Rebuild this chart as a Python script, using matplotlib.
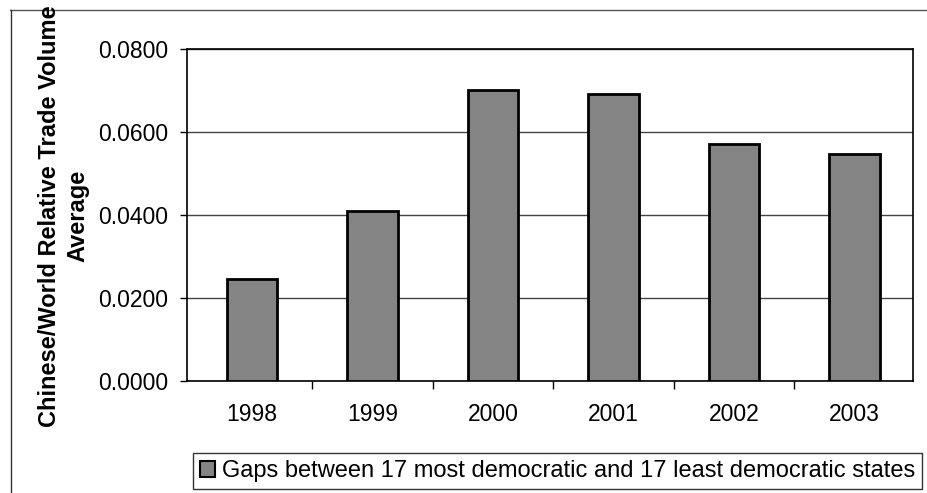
import matplotlib
matplotlib.use("Agg")
import matplotlib.pyplot as plt
from matplotlib.lines import Line2D
from matplotlib.patches import Patch
import numpy as np

years = ["1998", "1999", "2000", "2001", "2002", "2003"]
gaps = [0.0245, 0.0410, 0.0700, 0.0692, 0.0570, 0.0546]
yticks = [0.0, 0.02, 0.04, 0.06, 0.08]
series_label = "Gaps between 17 most democratic and 17 least democratic states"
ylabel = "Chinese/World Relative Trade Volume\nAverage"

plt.rcParams['font.family'] = ['Liberation Sans', 'DejaVu Sans']

W, H = 927, 493
fig = plt.figure(figsize=(W / 100, H / 100), dpi=100)
ax = fig.add_axes([187 / W, 1 - 380.5 / H, (913 - 187) / W, (380.5 - 49) / H])

x = np.arange(len(years))
bar_color = '#848484'
ax.bar(x, gaps, width=0.42, color=bar_color, edgecolor='black', linewidth=2, zorder=3)

ax.set_xlim(-0.54, len(years) - 0.516)
ax.set_ylim(0, 0.08)
ax.set_yticks(yticks)
ax.set_yticklabels([f"{v:.4f}" for v in yticks], fontsize=16.5)
ax.yaxis.grid(True, color='#444444', linewidth=1, zorder=0)
ax.tick_params(axis='y', direction='out', length=5, width=1, pad=8.5)

ax.set_xticks(np.arange(0.5, len(years) - 1, 1.0))
ax.set_xticklabels([])
ax.set_xticks(x, minor=True)
ax.set_xticklabels(years, minor=True, fontsize=16.5)
ax.tick_params(axis='x', which='major', direction='out', length=6, width=1)
ax.tick_params(axis='x', which='minor', length=0, pad=16)

for s in ax.spines.values():
    s.set_color('black')
    s.set_linewidth(1.2)

fig.text(64 / W, 1 - 216 / H, ylabel, rotation=90, ha='center', va='center',
         fontsize=17, fontweight='bold', multialignment='center', linespacing=1.3)

handle = Patch(facecolor=bar_color, edgecolor='black', linewidth=1.5)
leg = fig.legend([handle], [series_label], loc='center',
                 bbox_to_anchor=(557.5 / W, 1 - 471 / H), fontsize=17,
                 frameon=True, fancybox=False, edgecolor='black',
                 handlelength=0.65, handleheight=0.65, handletextpad=0.3,
                 borderpad=0.3, borderaxespad=0)
leg.get_frame().set_linewidth(1.0)

fig.add_artist(Line2D([10 / W, 1.0], [1 - 10 / H, 1 - 10 / H], color='#555555', linewidth=1, transform=fig.transFigure))
fig.add_artist(Line2D([11 / W, 11 / W], [0.0, 1 - 10 / H], color='#333333', linewidth=1, transform=fig.transFigure))

fig.savefig("out.png", dpi=100, facecolor='white')
